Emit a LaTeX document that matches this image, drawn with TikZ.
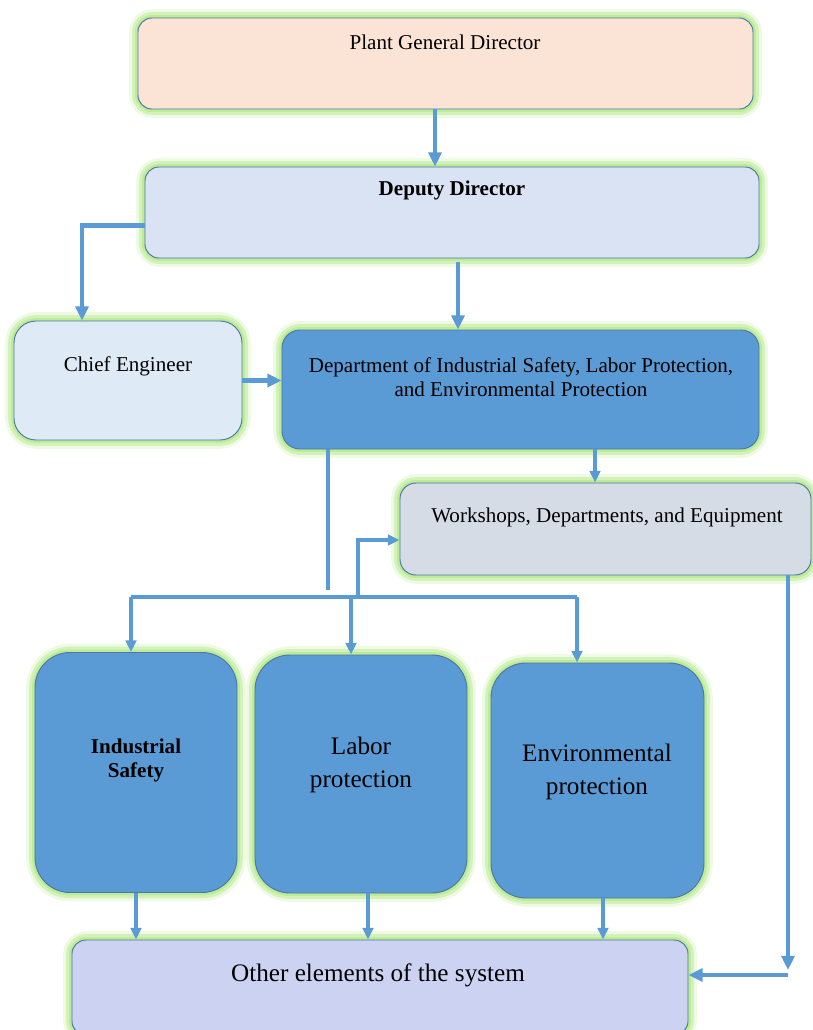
\documentclass[tikz,border=0pt]{standalone}
\usepackage{fontspec}
\setmainfont{Liberation Serif}
\usetikzlibrary{arrows.meta}
\definecolor{boxline}{HTML}{4A76A8}
\definecolor{glowgreen}{HTML}{BDEB96}
\definecolor{glowmid}{HTML}{D3F2BA}
\definecolor{glowpale}{HTML}{EEFAE4}
\definecolor{peach}{HTML}{FBE4D5}
\definecolor{deputyblue}{HTML}{DAE3F3}
\definecolor{chiefblue}{HTML}{DEEBF7}
\definecolor{deptblue}{HTML}{5B9BD5}
\definecolor{shopgrey}{HTML}{D6DCE5}
\definecolor{otherlilac}{HTML}{CCD2F2}
\definecolor{linkblue}{HTML}{5B9BD5}
\tikzset{
  box/.style={draw=boxline, line width=0.8pt, rounded corners=0.42cm,
    preaction={draw=glowpale, line width=15pt},
    preaction={draw=glowmid, line width=10pt},
    preaction={draw=glowgreen, line width=5pt}},
  tallbox/.style={box, fill=deptblue, rounded corners=1.05cm,
    minimum width=#1, minimum height=7.2cm},
  txt/.style={font=\fontsize{18}{20.5}\selectfont, align=center},
  bigtxt/.style={font=\fontsize{21.5}{28}\selectfont, align=center},
  thickarr/.style={draw=linkblue, line width=4pt, -{Triangle[length=12pt,width=11pt]}},
  thinarr/.style={draw=linkblue, line width=2.6pt, -{Triangle[length=10pt,width=9pt]}},
  thinline/.style={draw=linkblue, line width=2.6pt}
}
\begin{document}
\begin{tikzpicture}[x=0.03cm,y=-0.03cm]
  \useasboundingbox (0,0) rectangle (813,1030);
  % boxes
  \node[box, fill=peach, minimum width=18.45cm, minimum height=2.73cm] (pgd) at (445.5,63.5) {};
  \node[box, fill=deputyblue, minimum width=18.42cm, minimum height=2.73cm] (dd) at (452,212.5) {};
  \node[box, fill=chiefblue, rounded corners=0.66cm, minimum width=6.84cm, minimum height=3.57cm] (ce) at (128,380.5) {};
  \node[box, fill=deptblue, rounded corners=0.54cm, minimum width=14.31cm, minimum height=3.57cm] (dept) at (520.5,389.5) {};
  \node[box, fill=shopgrey, rounded corners=0.48cm, minimum width=12.33cm, minimum height=2.76cm] (ws) at (605.5,529) {};
  \node[tallbox=6.06cm] (is) at (136,772.5) {};
  \node[tallbox=6.36cm, minimum height=7.14cm] (lp) at (361,774) {};
  \node[tallbox=6.39cm, minimum height=7.05cm] (ep) at (597.5,780.5) {};
  \node[box, fill=otherlilac, minimum width=18.48cm, minimum height=2.85cm] (oe) at (380,987.5) {};
  % texts
  \node[txt] (pgdtxt) at (445,42) {Plant General Director};
  \node[txt, font=\fontsize{18}{20.5}\selectfont\bfseries] (ddtxt) at (452,190) {Deputy Director};
  \node[txt] (cetxt) at (128,366) {Chief Engineer};
  \node[txt] (depttxt) at (521,377) {Department of Industrial Safety, Labor Protection,\\and Environmental Protection};
  \node[txt] (wstxt) at (607,517) {Workshops, Departments, and Equipment};
  \node[txt, font=\fontsize{18}{20.5}\selectfont\bfseries] (istxt) at (136,760) {Industrial\\Safety};
  \node[bigtxt] (lptxt) at (361,765) {Labor\\protection};
  \node[bigtxt] (eptxt) at (597,772) {Environmental\\protection};
  \node[bigtxt] (oetxt) at (378,975) {Other elements of the system};
  % bus points
  \coordinate (busL) at (131,597);
  \coordinate (busM) at (351,597);
  \coordinate (busW) at (358,597);
  \coordinate (busR) at (577,597);
  \coordinate (corner) at (788,970);
  % connectors
  \draw[thickarr] ([xshift=-0.315cm]pgd.south) -- ([xshift=-0.315cm]pgd.south |- dd.north);
  \draw[thickarr] ([xshift=0.18cm,yshift=-0.1cm]dd.south) -- ([xshift=0.18cm]dd.south |- dept.north);
  \draw[thickarr] ([yshift=-0.4cm]dd.west) -| ([xshift=-1.38cm]ce.north);
  \draw[thickarr] (ce.east) -- (ce.east -| dept.west);
  \draw[thinarr] ([xshift=2.235cm]dept.south) -- ([xshift=2.235cm]dept.south |- ws.north);
  \draw[thinline] ([xshift=-5.775cm]dept.south) -- ([xshift=-5.775cm,yshift=0.2cm]dept.south |- busL);
  \draw[thinline] (busL) -- (busR);
  \draw[thinarr] (busL) -- (busL |- is.north);
  \draw[thinarr] (busM) -- (busM |- lp.north);
  \draw[thinarr] (busR) -- (busR |- ep.north);
  \draw[thinarr] (busW) |- ([yshift=-0.33cm]ws.west);
  \draw[thinarr] (is.south) -- (is.south |- oe.north);
  \draw[thinarr] ([xshift=0.21cm]lp.south) -- ([xshift=0.21cm]lp.south |- oe.north);
  \draw[thinarr] ([xshift=0.165cm]ep.south) -- ([xshift=0.165cm]ep.south |- oe.north);
  \draw[thickarr] (ws.south -| corner) -- (corner);
  \draw[thickarr] ([yshift=-0.15cm]corner) -- ([yshift=-0.15cm]corner -| oe.east);
\end{tikzpicture}
\end{document}
